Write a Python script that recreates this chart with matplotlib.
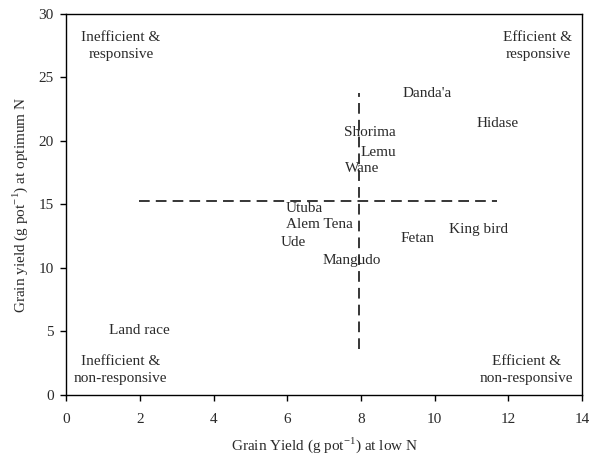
import matplotlib
matplotlib.use("Agg")
import matplotlib.pyplot as plt

# genotype labels placed at (low N yield, optimum N yield)
names = ["Danda'a", "Hidase", "Shorima", "Lemu", "Wane", "Utuba",
         "Alem Tena", "Ude", "Fetan", "King bird", "Mangudo", "Land race"]
low_n = [9.79, 11.72, 8.24, 8.47, 8.03, 6.45, 6.86, 6.16, 9.54, 11.19, 7.75, 1.97]
opt_n = [23.75, 21.4, 20.7, 19.08, 17.82, 14.7, 13.39, 12.0, 12.34, 13.05, 10.58, 5.07]

# mean lines
mean_low = 7.94
mean_opt = 15.3
hline_x = [1.97, 11.68]
vline_y = [3.6, 23.75]

quadrants = ["Inefficient &\nresponsive", "Efficient &\nresponsive",
             "Inefficient &\nnon-responsive", "Efficient &\nnon-responsive"]
quad_x = [1.48, 12.8, 1.48, 12.5]
quad_y = [27.5, 27.5, 1.93, 1.93]

plt.rcParams['font.family'] = ['Liberation Serif', 'DejaVu Serif']
plt.rcParams['font.size'] = 11

fig = plt.figure(figsize=(5.9, 4.57), dpi=100)
ax = fig.add_axes([0.1124, 0.1357, 0.874, 0.8337])

ax.plot(hline_x, [mean_opt, mean_opt], color='black', lw=1.1, dashes=(7, 4))
ax.plot([mean_low, mean_low], vline_y, color='black', lw=1.1, dashes=(7, 4))

for n, x, y in zip(names, low_n, opt_n):
    ax.text(x, y, n, ha='center', va='center', fontsize=11, color='#2a2a2a')

for q, x, y in zip(quadrants, quad_x, quad_y):
    ax.text(x, y, q, ha='center', va='center', fontsize=11, color='#2a2a2a',
            linespacing=1.4)

ax.set_xlim(0, 14)
ax.set_ylim(0, 30)
ax.set_xticks(range(0, 15, 2))
ax.set_yticks(range(0, 31, 5))
ax.tick_params(direction='out', length=4, width=1, labelsize=11, pad=9,
               labelcolor='#2a2a2a')
ax.tick_params(axis='y', pad=5)
for s in ax.spines.values():
    s.set_linewidth(1)

ax.set_xlabel(r'Grain Yield (g pot$^{\mathregular{-1}}$) at low N', fontsize=11,
              labelpad=7, color='#2a2a2a')
ax.set_ylabel(r'Grain yield (g pot$^{\mathregular{-1}}$) at optimum N', fontsize=11,
              labelpad=6, color='#2a2a2a')

fig.savefig("out.png", dpi=100)
